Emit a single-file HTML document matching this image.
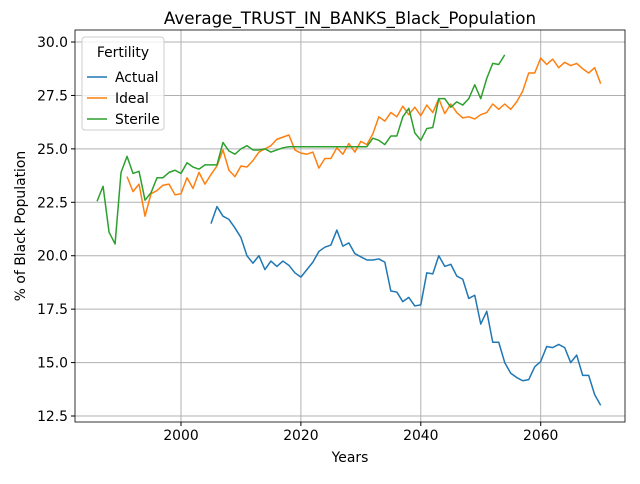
<!DOCTYPE html>
<html><head><meta charset="utf-8"><style>
body{margin:0;background:#fff;font-family:"DejaVu Sans","Liberation Sans",sans-serif}
</style></head><body>
<svg id="chart" width="640" height="480" xmlns="http://www.w3.org/2000/svg" font-family="DejaVu Sans, Liberation Sans, sans-serif"></svg>
<script>
const actualStart=2005;
const actualValues=[21.5,22.3,21.85,21.7,21.3,20.85,20.0,19.65,20.0,19.35,19.75,19.5,19.75,19.55,19.2,19.0,19.35,19.7,20.2,20.4,20.5,21.2,20.45,20.6,20.1,19.95,19.8,19.8,19.85,19.7,18.35,18.3,17.85,18.05,17.65,17.7,19.2,19.15,20.0,19.5,19.6,19.05,18.9,18.0,18.15,16.8,17.4,15.95,15.95,15.0,14.5,14.3,14.15,14.2,14.8,15.05,15.75,15.7,15.85,15.7,15.0,15.35,14.4,14.4,13.5,13.0];
const idealStart=1991;
const idealValues=[23.7,23.0,23.35,21.85,22.9,23.05,23.3,23.35,22.85,22.9,23.65,23.15,23.9,23.35,23.8,24.2,24.95,24.0,23.7,24.2,24.15,24.45,24.85,25.0,25.15,25.45,25.55,25.65,24.95,24.8,24.75,24.85,24.1,24.55,24.55,25.05,24.75,25.25,24.85,25.35,25.2,25.7,26.5,26.3,26.7,26.5,27.0,26.6,26.95,26.55,27.05,26.7,27.35,26.65,27.1,26.7,26.45,26.5,26.4,26.6,26.7,27.1,26.85,27.1,26.85,27.2,27.7,28.55,28.55,29.25,28.95,29.2,28.8,29.05,28.9,29.0,28.75,28.55,28.8,28.05];
const sterileStart=1986;
const sterileValues=[22.55,23.25,21.1,20.55,23.9,24.65,23.85,23.95,22.6,22.95,23.65,23.65,23.9,24.0,23.85,24.35,24.15,24.05,24.25,24.25,24.25,25.3,24.9,24.75,25.0,25.15,24.95,24.95,25.0,24.85,24.95,25.05,25.1,25.1,25.1,25.1,25.1,25.1,25.1,25.1,25.1,25.1,25.1,25.1,25.1,25.1,25.5,25.4,25.2,25.6,25.6,26.5,26.9,25.75,25.4,25.95,26.0,27.35,27.35,26.95,27.2,27.05,27.35,28.0,27.35,28.3,29.0,28.95,29.4];
const xTicks=[2000,2020,2040,2060];
const yTicks=[12.5,15.0,17.5,20.0,22.5,25.0,27.5,30.0];
const L=75,R=625,T=30,B=422;
const x=v=>181+(v-2000)*5.995;
const y=v=>416-(v-12.5)*21.37;
const svg=document.getElementById('chart');
const NS='http://www.w3.org/2000/svg';
function mk(tag,attrs,parent){const e=document.createElementNS(NS,tag);for(const k in attrs)e.setAttribute(k,attrs[k]);(parent||svg).appendChild(e);return e;}
xTicks.forEach(t=>{
 const g=mk('line',{x1:x(t),x2:x(t),y1:T,y2:B,stroke:'#b0b0b0','stroke-width':1});
 
 
 mk('line',{x1:x(t),x2:x(t),y1:B,y2:B+4,stroke:'#000'});
 const tx=mk('text',{x:x(t),y:B+18,'text-anchor':'middle','font-size':13.9});
 tx.textContent=t;
 
 
});
yTicks.forEach(t=>{
 const g=mk('line',{x1:L,x2:R,y1:y(t),y2:y(t),stroke:'#b0b0b0','stroke-width':1});
 
 
 mk('line',{x1:L-4,x2:L,y1:y(t),y2:y(t),stroke:'#000'});
 const tx=mk('text',{x:L-7,y:y(t)+5,'text-anchor':'end','font-size':13.9});
 tx.textContent=t.toFixed(1);
 
 
});
function series(start,vals,color,name){
 const p=mk('polyline',{points:vals.map((v,i)=>x(start+i)+','+y(v)).join(' '),fill:'none',stroke:color,'stroke-width':1.5,'stroke-linejoin':'round'});
 
 
}
series(actualStart,actualValues,'#1f77b4','actual-line');
series(idealStart,idealValues,'#ff7f0e','ideal-line');
series(sterileStart,sterileValues,'#2ca02c','sterile-line');
const frame=mk('rect',{x:L,y:T,width:R-L,height:B-T,fill:'none',stroke:'#000','stroke-width':0.8});


const title=mk('text',{x:350,y:24,'text-anchor':'middle','font-size':16.7});
title.textContent='Average_TRUST_IN_BANKS_Black_Population';


const xl=mk('text',{x:350,y:462,'text-anchor':'middle','font-size':13.9});
xl.textContent='Years';


const yl=mk('text',{x:25,y:226,'text-anchor':'middle','font-size':13.9,transform:'rotate(-90 25 226)'});
yl.textContent='% of Black Population';


const lg=mk('g',{});


mk('rect',{x:82,y:37,width:82,height:93,rx:3,fill:'#fff','fill-opacity':0.8,stroke:'#ccc'},lg);
const lt=mk('text',{x:123,y:57,'text-anchor':'middle','font-size':13.9},lg);
lt.textContent='Fertility';
[['Actual','#1f77b4'],['Ideal','#ff7f0e'],['Sterile','#2ca02c']].forEach((d,i)=>{
 const yy=77+i*21;
 const e=mk('g',{},lg);
 
 
 mk('line',{x1:87,x2:107,y1:yy,y2:yy,stroke:d[1],'stroke-width':1.5},e);
 const t=mk('text',{x:115,y:yy+5,'font-size':13.9},e);
 t.textContent=d[0];
});
</script>
</body></html>
